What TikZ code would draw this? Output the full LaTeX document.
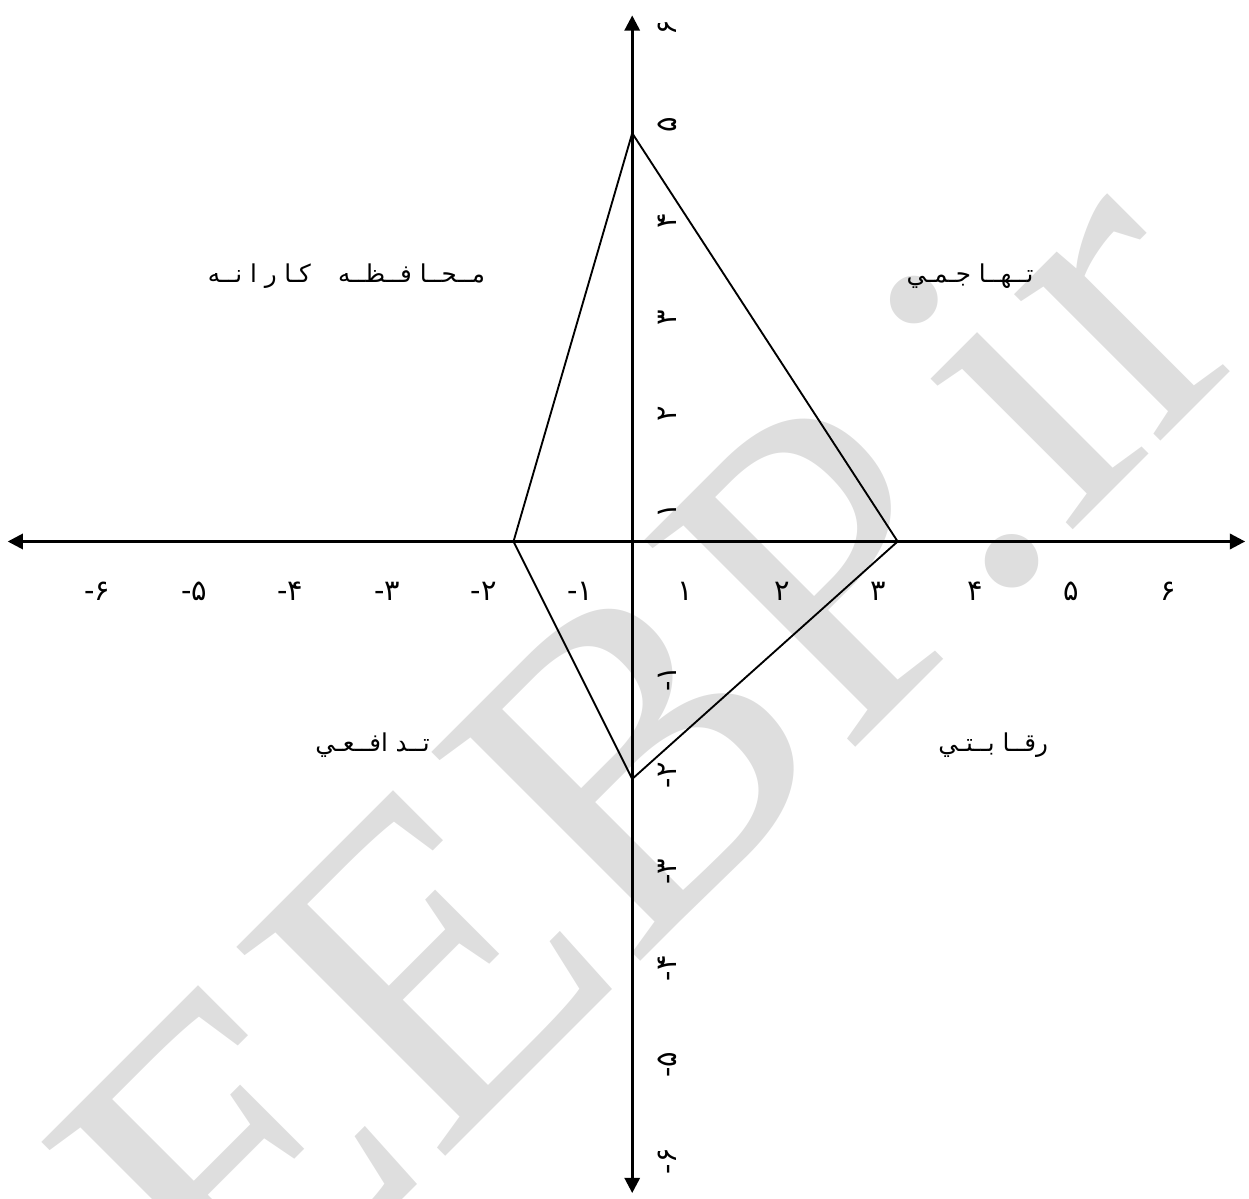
\documentclass[tikz,border=0pt]{standalone}
\usepackage{fontspec}
\usetikzlibrary{arrows.meta}
\setmainfont{Liberation Serif}
\newfontfamily\arabicfont[Script=Arabic]{DejaVu Sans}
\newfontfamily\digitfont{DejaVu Sans}
\TeXXeTstate=1

\begin{document}
\begin{tikzpicture}[>={Triangle[length=9pt,width=9pt]}, scale=2,
    axis/.style={line width=1.6pt},
    edge/.style={line width=1.1pt, line join=miter},
    tick/.style={font=\digitfont\fontsize{17}{17}\selectfont, inner sep=0pt},
    region/.style={font=\arabicfont\fontsize{14.5}{14.5}\selectfont, inner sep=0pt},
    stampstyle/.style={font=\fontsize{266}{266}\selectfont, text=black!13,
                 inner sep=0pt, anchor=base west, rotate=45}]
  \useasboundingbox (-6.55,-6.81) rectangle (6.39,5.61);
  \clip (-6.55,-6.81) rectangle (6.39,5.61);

  % Watermark
  \node[stampstyle] (stamp) at (-4.05,-8.49) {EEBP.ir};

  % Axes
  \coordinate (xmin) at (-6.47,0);
  \coordinate (xmax) at (6.35,0);
  \coordinate (ymin) at (0,-6.75);
  \coordinate (ymax) at (0,5.45);
  \draw[axis, <->] (xmin) -- (xmax);
  \draw[axis, <->] (ymin) -- (ymax);

  % Strategy polygon
  \coordinate (top) at (0,4.23);
  \coordinate (right) at (2.75,0);
  \coordinate (bottom) at (0,-2.46);
  \coordinate (left) at (-1.23,0);
  \draw[edge] (top) -- (right) -- (bottom) -- (left) -- cycle;

  % Scale labels
  \foreach \k/\d in {1/۱,2/۲,3/۳,4/۴,5/۵,6/۶} {
    \node[tick] (xp\k) at (\k-0.45,-0.52) {\d};
    \node[tick] (xn\k) at (-\k+0.46,-0.52) {-\d};
    \node[tick, rotate=90] (yp\k) at (0.36,\k-0.68) {\d};
    \node[tick, rotate=90] (yn\k) at (0.36,-\k-0.42) {-\d};
  }

  % Quadrant names
  \node[region] (cons) at (-2.96,2.75)
    {\beginR مــحــا فــظــه\hspace{16pt}كـا ر ا نــه\endR};
  \node[region] (aggr) at (3.50,2.75) {\beginR تــهــا جـمـي\endR};
  \node[region] (defn) at (-2.69,-2.11) {\beginR تــد افــعـي\endR};
  \node[region] (comp) at (3.74,-2.11) {\beginR رقــا بــتـي\endR};
\end{tikzpicture}
\end{document}
